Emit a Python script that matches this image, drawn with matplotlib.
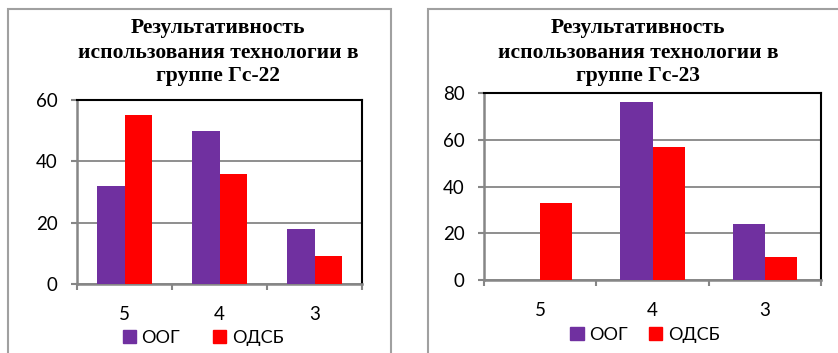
import numpy as np
import matplotlib as mpl
from matplotlib import pyplot as plt
from matplotlib.patches import Rectangle

### data ###
categories = ['5', '4', '3']
series_names = ['ООГ', 'ОДСБ']
gc22_oog = [32, 50, 18]
gc22_odsb = [55, 36, 9]
gc23_oog = [0, 76, 24]
gc23_odsb = [33, 57, 10]
titles = [['Результативность', 'использования технологии в', 'группе Гс-22'],
          ['Результативность', 'использования технологии в', 'группе Гс-23']]
yticks_22 = [0, 20, 40, 60]
yticks_23 = [0, 20, 40, 60, 80]

### style ###
W, H = 838, 353
purple = '#7030A0'
red = '#FF0000'
grey = '#868686'
mpl.rc('font', family=['Lato', 'DejaVu Sans'])

fig = plt.figure(figsize=(W / 100, H / 100), dpi=100)


def px_axes(x0, x1, ytop, ybot):
    return fig.add_axes([x0 / W, (H - ybot) / H, (x1 - x0) / W, (ybot - ytop) / H])


def draw_panel(ax, oog, odsb, yticks, title, title_cx, legend_xy, colspace):
    x = np.arange(len(categories))
    w = 1 / 3.5
    ax.bar(x - w / 2, oog, width=w, color=purple, zorder=3)
    ax.bar(x + w / 2, odsb, width=w, color=red, zorder=3)
    ax.set_xlim(-0.5, len(categories) - 0.5)
    ax.set_ylim(yticks[0], yticks[-1])
    ax.set_yticks(yticks)
    ax.set_xticks(np.arange(len(categories) + 1) - 0.5)
    ax.set_xticklabels([])
    ax.set_xticks(x, minor=True)
    ax.set_xticklabels(categories, minor=True)
    ax.tick_params(axis='x', which='major', direction='out', length=4, width=1.5, color=grey)
    ax.tick_params(axis='x', which='minor', length=0, pad=16, labelsize=13.5)
    ax.tick_params(axis='y', direction='out', length=4, width=1.5, color=grey, pad=10, labelsize=13.5)
    ax.grid(axis='y', color=grey, linewidth=1.3, zorder=0)
    for s in ['left', 'bottom']:
        ax.spines[s].set_color(grey)
        ax.spines[s].set_linewidth(1.8)
    for s in ['top', 'right']:
        ax.spines[s].set_color('black')
        ax.spines[s].set_linewidth(1.5)
    ax.set_axisbelow(True)

    baselines = [33, 57.5, 81.5]
    for line, yb in zip(title, baselines):
        fig.text(title_cx / W, 1 - yb / H, line, ha='center', va='baseline',
                 family='Liberation Serif', weight='bold', fontsize=15.5)

    handles = [Rectangle((0, 0), 1, 1, color=purple), Rectangle((0, 0), 1, 1, color=red)]
    ax.legend(handles, series_names, loc='center', ncol=2, frameon=False,
              bbox_to_anchor=(legend_xy[0] / W, 1 - legend_xy[1] / H),
              bbox_transform=fig.transFigure, fontsize=13,
              handlelength=0.75, handleheight=0.75, handletextpad=0.3,
              columnspacing=colspace, borderaxespad=0)


### panel borders ###
fig.patches.append(Rectangle((8 / W, -0.1), (391 - 8) / W, 1.1 - 9 / H,
                             transform=fig.transFigure, fill=False,
                             edgecolor='#A0A0A0', linewidth=1.5))
fig.patches.append(Rectangle((428 / W, -0.1), 0.5, 1.1 - 9 / H,
                             transform=fig.transFigure, fill=False,
                             edgecolor='#A0A0A0', linewidth=1.5))

ax1 = px_axes(77, 362, 100, 284)
draw_panel(ax1, gc22_oog, gc22_odsb, yticks_22, titles[0], 218, (203, 338), 1.8)
ax2 = px_axes(484, 821, 93, 280)
draw_panel(ax2, gc23_oog, gc23_odsb, yticks_23, titles[1], 638, (645, 335), 1.15)

plt.savefig('out.png', dpi=100)
